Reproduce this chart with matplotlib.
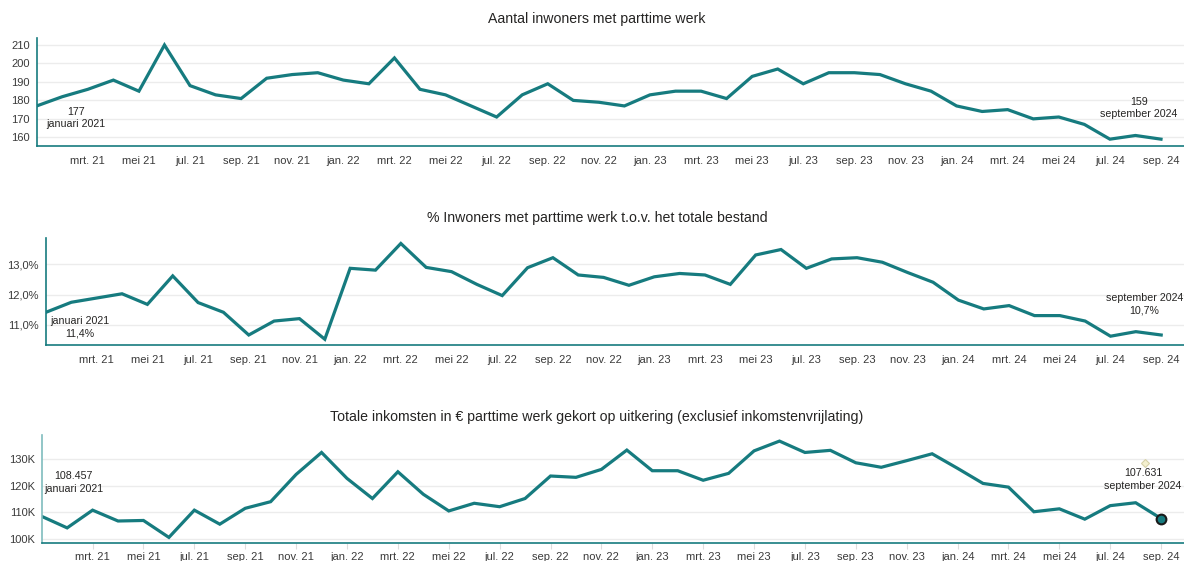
import matplotlib
matplotlib.use("Agg")
import matplotlib.pyplot as plt
from matplotlib.ticker import FuncFormatter, FixedLocator
from matplotlib.transforms import offset_copy

plt.rcParams['font.family'] = ['Liberation Sans', 'DejaVu Sans']

# Monthly data, januari 2021 t/m september 2024
maanden = ['jan.', 'feb.', 'mrt.', 'apr.', 'mei', 'jun.', 'jul.', 'aug.', 'sep.', 'okt.', 'nov.', 'dec.']
jaren = [21, 22, 23, 24]
periode = [(m, j) for j in jaren for m in range(12)][:45]

inwoners = [177, 182, 186, 191, 185, 210, 188, 183, 181, 192, 194, 195,
            191, 189, 203, 186, 183, 177, 171, 183, 189, 180, 179, 177,
            183, 185, 185, 181, 193, 197, 189, 195, 195, 194, 189, 185,
            177, 174, 175, 170, 171, 167, 159, 161, 159]

percentage = [11.42, 11.75, 11.89, 12.03, 11.68, 12.62, 11.74, 11.42, 10.67, 11.13, 11.21, 10.53,
              12.87, 12.81, 13.69, 12.90, 12.76, 12.34, 11.97, 12.89, 13.22, 12.65, 12.57, 12.31,
              12.59, 12.70, 12.65, 12.34, 13.31, 13.49, 12.87, 13.18, 13.22, 13.07, 12.73, 12.41,
              11.82, 11.53, 11.64, 11.31, 11.31, 11.13, 10.63, 10.78, 10.67]

inkomsten = [108457, 104100, 110800, 106700, 106900, 100500, 110800, 105500, 111500, 114000, 124300, 132600,
             122800, 115200, 125300, 116800, 110500, 113400, 112100, 115200, 123700, 123200, 126200, 133500,
             125700, 125700, 122100, 124700, 133200, 136900, 132600, 133400, 128700, 127000, 129500, 132100,
             126600, 120900, 119500, 110200, 111300, 107400, 112500, 113600, 107631]

titels = ["Aantal inwoners met parttime werk",
          "% Inwoners met parttime werk t.o.v. het totale bestand",
          "Totale inkomsten in € parttime werk gekort op uitkering (exclusief inkomstenvrijlating)"]

x = list(range(len(periode)))
tick_pos = x[2::2]
tick_lab = [f"{maanden[m]} {j}" for m, j in periode][2::2]

teal = '#167B7F'
txt = '#252423'
tickc = '#3a3a3a'
lblsize = 7.7

W, H = 1184, 561
fig = plt.figure(figsize=(W / 100, H / 100), dpi=100)

def make_ax(left, top, bottom, ylim, yticks, fmt, ticks_visible=False):
    ax = fig.add_axes([left / W, 1 - bottom / H, 1 - left / W, (bottom - top) / H])
    ax.set_xlim(0, 44.9)
    ax.set_ylim(*ylim)
    ax.yaxis.set_major_locator(FixedLocator(yticks))
    ax.yaxis.set_major_formatter(FuncFormatter(fmt))
    ax.set_xticks(tick_pos)
    ax.set_xticklabels(tick_lab)
    for s in ['top', 'right']:
        ax.spines[s].set_visible(False)
    for s in ['left', 'bottom']:
        ax.spines[s].set_color(teal)
        ax.spines[s].set_linewidth(1.2)
    ax.grid(axis='y', color='#ececec', linewidth=1)
    ax.set_axisbelow(True)
    ax.tick_params(axis='y', length=0, pad=5, labelsize=8, labelcolor=tickc)
    if ticks_visible:
        ax.tick_params(axis='x', length=4, color='#dddddd', pad=3, labelsize=8, labelcolor=tickc)
    else:
        ax.tick_params(axis='x', length=0, pad=7, labelsize=8, labelcolor=tickc)
    return ax

# Panel 1
ax1 = make_ax(36.7, 38, 146, (155.3, 213.8), [160, 170, 180, 190, 200, 210], lambda v, p: f"{v:.0f}")
ax1.plot(x, inwoners, color=teal, linewidth=2.3, solid_joinstyle='miter')
ax1.annotate(f"{inwoners[0]}\njanuari 2021", (x[0], inwoners[0]), xytext=(39, -12),
             textcoords='offset pixels', ha='center', va='center', fontsize=lblsize, color=txt, linespacing=1.3)
ax1.annotate(f"{inwoners[-1]}\nseptember 2024", (x[-1], inwoners[-1]), xytext=(-22, 31),
             textcoords='offset pixels', ha='center', va='center', fontsize=lblsize, color=txt, linespacing=1.3)

# Panel 2
def pct(v, p=None):
    return f"{v:.1f}%".replace('.', ',')

ax2 = make_ax(46, 237.7, 345, (10.34, 13.88), [11, 12, 13], pct)
ax2.plot(x, percentage, color=teal, linewidth=2.3, solid_joinstyle='miter')
ax2.annotate("januari 2021\n" + pct(percentage[0]), (x[0], percentage[0]), xytext=(34, -15),
             textcoords='offset pixels', ha='center', va='center', fontsize=lblsize, color=txt, linespacing=1.3)
ax2.annotate("september 2024\n" + pct(percentage[-1]), (x[-1], percentage[-1]), xytext=(-17, 31),
             textcoords='offset pixels', ha='center', va='center', fontsize=lblsize, color=txt, linespacing=1.3)

# Panel 3
def dots(v):
    return f"{v:,}".replace(',', '.')

ax3 = make_ax(41.7, 435, 542.7, (98500, 139200), [100000, 110000, 120000, 130000],
              lambda v, p: f"{v / 1000:.0f}K", ticks_visible=True)
ax3.spines['left'].set_color('#7fbcbe')
ax3.plot(x, inkomsten, color=teal, linewidth=2.3, solid_joinstyle='miter')
ax3.plot(x[-1], inkomsten[-1], marker='o', markersize=7, markerfacecolor=teal,
         markeredgecolor='#1a1a1a', markeredgewidth=1.5)
ax3.plot(x[-1], inkomsten[-1], marker='D', markersize=4, markerfacecolor='#f4f0cf',
         markeredgecolor='#d6d1a8', markeredgewidth=0.8,
         transform=offset_copy(ax3.transData, fig=fig, x=-16, y=56, units='dots'))
ax3.annotate(f"{dots(inkomsten[0])}\njanuari 2021", (x[0], inkomsten[0]), xytext=(32, 34),
             textcoords='offset pixels', ha='center', va='center', fontsize=lblsize, color=txt, linespacing=1.3)
ax3.annotate(f"{dots(inkomsten[-1])}\nseptember 2024", (x[-1], inkomsten[-1]), xytext=(-18, 39),
             textcoords='offset pixels', ha='center', va='center', fontsize=lblsize, color=txt, linespacing=1.3)

# Titles
for title, ty in zip(titels, [19, 218, 417]):
    fig.text(597 / W, 1 - ty / H, title, ha='center', va='center', fontsize=10.2, color=txt)

fig.savefig("out.png", dpi=100)
